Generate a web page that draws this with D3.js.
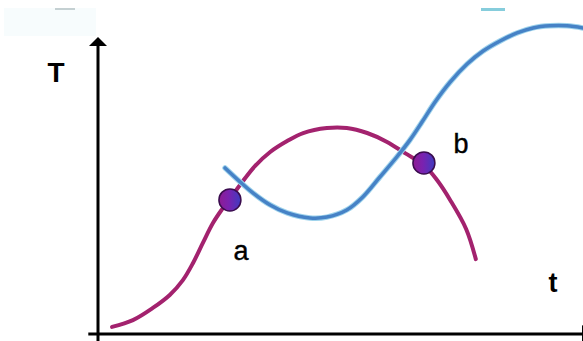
<!DOCTYPE html>
<html>
<head>
<meta charset="utf-8">
<script src="https://cdn.jsdelivr.net/npm/d3@7"></script>
<style>
  body { margin: 0; background: #fff; }
  svg { display: block; }
  .lbl { font-family: "Liberation Sans", Arial, sans-serif; fill: #000; }
</style>
</head>
<body>
<div id="chart"></div>
<script>
// curve data, t = time, T = temperature (arbitrary units)
const magentaT    = [0.29, 0.72, 1.13, 1.48, 1.75, 1.96, 2.16, 2.37, 2.56, 2.76, 2.99, 3.24, 3.55, 3.90, 4.23, 4.72, 5.13, 5.55, 5.96, 6.33, 6.72, 6.99, 7.26, 7.59, 7.79];
const magentaTemp = [0.24, 0.47, 0.88, 1.32, 1.82, 2.40, 3.07, 3.75, 4.22, 4.66, 5.17, 5.68, 6.15, 6.52, 6.79, 6.96, 6.96, 6.79, 6.49, 6.11, 5.71, 5.20, 4.53, 3.55, 2.53];

const blueT    = [2.62, 2.93, 3.20, 3.55, 3.90, 4.37, 4.72, 5.13, 5.46, 5.81, 6.16, 6.43, 6.68, 6.95, 7.26, 7.61, 7.94, 8.29, 8.64, 8.97, 9.32, 9.67, 10.0];
const blueTemp = [5.61, 5.14, 4.76, 4.36, 4.09, 3.92, 3.95, 4.19, 4.63, 5.30, 5.98, 6.55, 7.16, 7.84, 8.51, 9.12, 9.56, 9.90, 10.17, 10.34, 10.41, 10.41, 10.34];

// intersection points
const pointNames = ["a", "b"];
const pointT     = [2.72, 6.72];
const pointTemp  = [4.53, 5.78];

const axisLabels = ["T", "t"];

const width = 583, height = 341;

const svg = d3.select("#chart").append("svg")
    .attr("width", width)
    .attr("height", height);

const x = d3.scaleLinear().domain([0, 10]).range([98, 583]);
const y = d3.scaleLinear().domain([0, 10]).range([334, 38]);

const defs = svg.append("defs");
const grad = defs.append("linearGradient")
    .attr("id", "dotGrad")
    .attr("x1", "0%").attr("x2", "100%")
    .attr("y1", "0%").attr("y2", "0%");
grad.append("stop").attr("offset", "0%").attr("stop-color", "#8e1c93");
grad.append("stop").attr("offset", "45%").attr("stop-color", "#7a22b0");
grad.append("stop").attr("offset", "100%").attr("stop-color", "#3f3cc0");

// faint scan smudges along the top edge
svg.append("rect").attr("x", 4).attr("y", 8).attr("width", 92).attr("height", 28).attr("fill", "#f7fcfd");
svg.append("rect").attr("x", 55).attr("y", 8).attr("width", 20).attr("height", 2).attr("fill", "#c4d0d2");
svg.append("rect").attr("x", 481).attr("y", 8).attr("width", 24).attr("height", 3).attr("fill", "#86cddc");

// axes
svg.append("line")
    .attr("x1", x(0)).attr("y1", y(-0.25))
    .attr("x2", x(0)).attr("y2", y(9.75))
    .attr("stroke", "#000").attr("stroke-width", 3);
svg.append("path")
    .attr("d", `M${x(0)},${y(10) - 1} L${x(0) - 9},${y(9.73)} L${x(0) + 9},${y(9.73)} Z`)
    .attr("fill", "#000");

svg.append("line")
    .attr("x1", x(-0.2)).attr("y1", y(0))
    .attr("x2", x(10)).attr("y2", y(0))
    .attr("stroke", "#000").attr("stroke-width", 3);
svg.append("path")
    .attr("d", `M${x(9.98)},${y(0) - 9} L${x(9.98)},${y(0) + 9} L${x(9.98) + 10},${y(0)} Z`)
    .attr("fill", "#000");

const line = d3.line()
    .x(d => x(d[0]))
    .y(d => y(d[1]))
    .curve(d3.curveCatmullRom.alpha(0.5));

const magentaData = magentaT.map((t, i) => [t, magentaTemp[i]]);
const blueData = blueT.map((t, i) => [t, blueTemp[i]]);

svg.append("path")
    .datum(magentaData)
    .attr("d", line)
    .attr("fill", "none")
    .attr("stroke", "#a3226e")
    .attr("stroke-width", 4)
    .attr("stroke-linecap", "round");

svg.append("path")
    .datum(blueData)
    .attr("d", line)
    .attr("fill", "none")
    .attr("stroke", "#9fd3ec")
    .attr("stroke-width", 5.5)
    .attr("stroke-linecap", "round");
svg.append("path")
    .datum(blueData)
    .attr("d", line)
    .attr("fill", "none")
    .attr("stroke", "#4682c6")
    .attr("stroke-width", 3.5)
    .attr("stroke-linecap", "round");

// dots
const pts = pointNames.map((n, i) => ({name: n, t: pointT[i], temp: pointTemp[i]}));
svg.selectAll("circle.pt")
    .data(pts)
    .enter().append("circle")
    .attr("class", "pt")
    .attr("cx", d => x(d.t))
    .attr("cy", d => y(d.temp))
    .attr("r", 11)
    .attr("fill", "url(#dotGrad)")
    .attr("stroke", "#3a0c4e")
    .attr("stroke-width", 1.5);

// point labels
const labelOffset = {a: [11, 60], b: [37, -10]};
svg.selectAll("text.pt")
    .data(pts)
    .enter().append("text")
    .attr("class", "lbl pt")
    .attr("x", d => x(d.t) + labelOffset[d.name][0])
    .attr("y", d => y(d.temp) + labelOffset[d.name][1])
    .attr("text-anchor", "middle")
    .style("font-size", "27px")
    .style("stroke", "#000")
    .style("stroke-width", 0.4)
    .text(d => d.name);

// axis labels
svg.append("text")
    .attr("class", "lbl")
    .attr("x", 56).attr("y", 82)
    .attr("text-anchor", "middle")
    .style("font-size", "28px")
    .style("font-weight", "bold")
    .text(axisLabels[0]);
svg.append("text")
    .attr("class", "lbl")
    .attr("x", 553).attr("y", 292)
    .attr("text-anchor", "middle")
    .style("font-size", "27px")
    .style("font-weight", "bold")
    .text(axisLabels[1]);
</script>
</body>
</html>
